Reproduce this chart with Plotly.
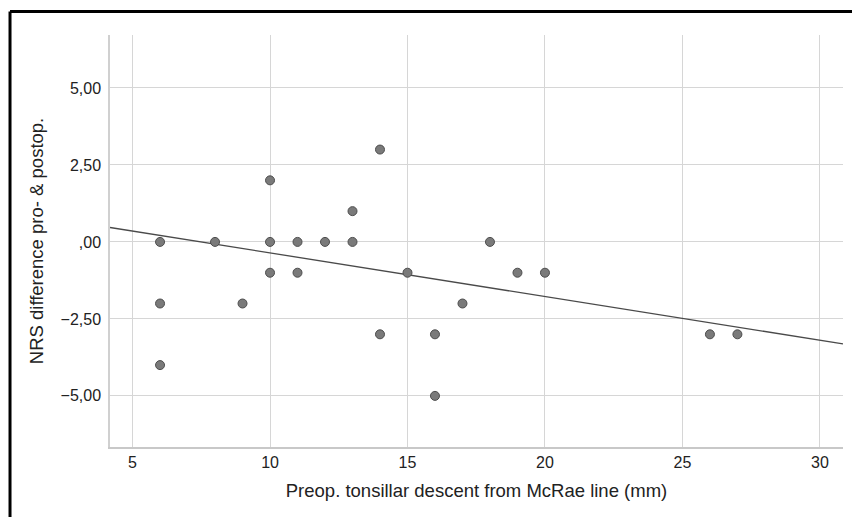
import plotly.graph_objects as go

# Data
descent_mm = [6, 6, 6, 8, 9, 10, 10, 10, 11, 11, 12, 13, 13, 14, 14, 15, 16, 16, 17, 18, 19, 20, 26, 27]
nrs_diff = [0, -2, -4, 0, -2, 2, 0, -1, 0, -1, 0, 1, 0, 3, -3, -1, -3, -5, -2, 0, -1, -1, -3, -3]

# Fit line (as drawn in reference)
fit_intercept = 1.062
fit_slope = -0.1418

x_ticks = [5, 10, 15, 20, 25, 30]
x_tick_labels = ["5", "10", "15", "20", "25", "30"]
y_ticks = [-5, -2.5, 0, 2.5, 5]
y_tick_labels = ["\u22125,00", "\u22122,50", ",00", "2,50", "5,00"]

x_range = [4.18, 30.84]
y_range = [-6.66, 6.72]

fit_x = x_range
fit_y = [fit_intercept + fit_slope * v for v in fit_x]

fig = go.Figure()
fig.add_trace(go.Scatter(
    x=fit_x, y=fit_y, mode="lines",
    line=dict(color="#4a4a4a", width=1.3),
    hoverinfo="skip", showlegend=False,
))
fig.add_trace(go.Scatter(
    x=descent_mm, y=nrs_diff, mode="markers",
    marker=dict(size=9, color="#7a7a7a", line=dict(color="#4d4d4d", width=1)),
    showlegend=False,
))

font_family = "Liberation Sans, Arial, sans-serif"

fig.update_layout(
    width=852, height=517,
    margin=dict(l=110, r=9, t=35, b=70),
    paper_bgcolor="white", plot_bgcolor="white",
    font=dict(family=font_family, size=16, color="#222222"),
    xaxis=dict(
        range=x_range, tickvals=x_ticks, ticktext=x_tick_labels,
        showgrid=True, gridcolor="#d6d6d6", gridwidth=1.2,
        zeroline=False, showline=True, linecolor="#c8c8c8", linewidth=2,
        ticks="", ticklabelstandoff=0,
        title=dict(text="Preop. tonsillar descent from McRae line (mm)",
                   font=dict(size=18.5, color="#222222"), standoff=14),
    ),
    yaxis=dict(
        range=y_range, tickvals=y_ticks, ticktext=y_tick_labels,
        showgrid=True, gridcolor="#d6d6d6", gridwidth=1.2,
        zeroline=False, showline=True, linecolor="#d0d0d0", linewidth=1.5,
        ticks="", ticklabelstandoff=4,
        title=dict(text="NRS difference pro- &amp; postop.",
                   font=dict(size=18.5, color="#222222"), standoff=12),
    ),
    shapes=[
        dict(type="line", xref="paper", yref="paper",
             x0=-0.1364, x1=1.02, y0=1.057, y1=1.057,
             line=dict(color="black", width=3)),
        dict(type="line", xref="paper", yref="paper",
             x0=-0.1364, x1=-0.1364, y0=1.057, y1=-0.2,
             line=dict(color="black", width=3)),
    ],
)

fig.write_html("out.html", config={"displayModeBar": False},
               post_script="document.body.style.margin='0';")
